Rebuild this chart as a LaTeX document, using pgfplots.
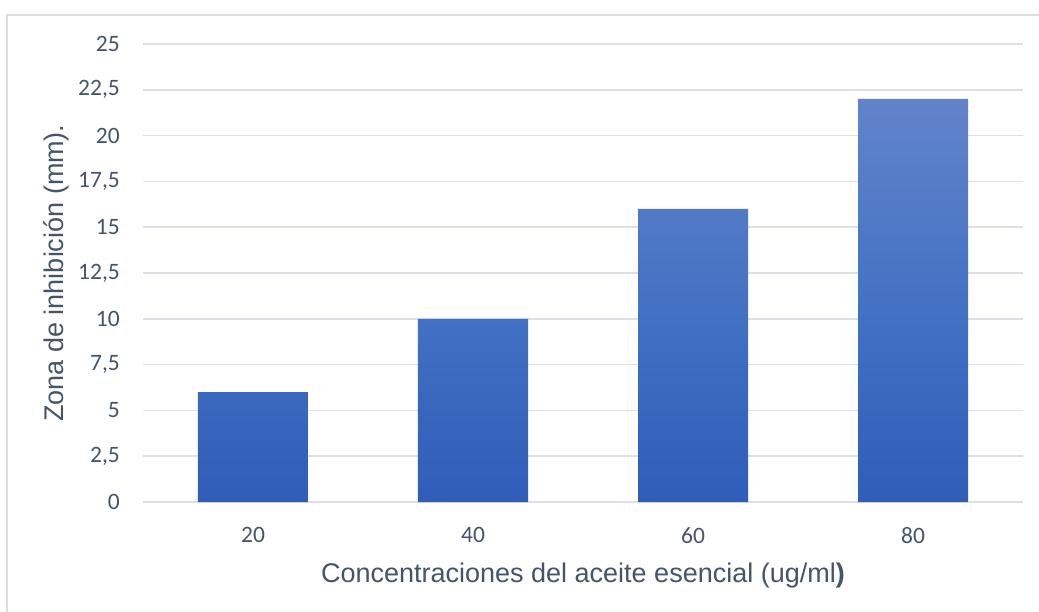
\documentclass[border=0pt]{standalone}
\usepackage{pgfplots}
\pgfplotsset{compat=1.18}
\usepackage{fontspec}
\setmainfont{Liberation Sans}
\newfontfamily\tickfont{Carlito}
\newcommand\tf{\tickfont\fontsize{23.5bp}{28bp}\selectfont}
\definecolor{txt}{HTML}{44546A}
\definecolor{gridc}{HTML}{DDE1E7}
\definecolor{framec}{HTML}{DADDE2}
\definecolor{btop}{HTML}{6283CA}
\definecolor{bmid}{HTML}{4472C4}
\definecolor{bbot}{HTML}{2F5DB8}
\begin{document}
\begin{tikzpicture}
\path[use as bounding box] (-143bp,-110bp) rectangle (896bp,502bp);
\draw[framec, line width=2bp] (-136bp,-115bp) -- (-136bp,487bp) -- (900bp,487bp);
\begin{axis}[
  at={(0,0)}, anchor=south west,
  scale only axis,
  width=880bp, height=458bp,
  xmin=-0.5, xmax=3.5,
  ymin=0, ymax=25,
  ytick={0,2.5,...,25},
  yticklabels={{\tf 0},{\tf 2,5},{\tf 5},{\tf 7,5},{\tf 10},{\tf 12,5},{\tf 15},{\tf 17,5},{\tf 20},{\tf 22,5},{\tf 25}},
  xtick={0,1,2,3},
  xticklabels={{\tf 20},{\tf 40},{\tf 60},{\tf 80}},
  /pgf/number format/assume math mode=true,
  major tick length=0pt,
  axis line style={draw=none},
  ymajorgrids,
  grid style={gridc, line width=1.5bp},
  tick label style={text=txt, inner sep=0pt},
  yticklabel style={anchor=east, xshift=-23bp},
  xticklabel style={anchor=north, yshift=-25bp},
  xlabel={Concentraciones del aceite esencial (ug/ml\textbf{)}},
  ylabel={Zona de inhibición (mm).},
  label style={font=\fontsize{27bp}{31bp}\selectfont, text=txt, inner sep=0pt},
  xlabel style={at={(axis description cs:0.5,0)}, anchor=base, yshift=-80bp},
  ylabel style={at={(axis description cs:0,0.5)}, anchor=center, yshift=87bp},
  clip=false,
]
\addplot[ybar, bar width=0.5, draw=none, top color=btop, bottom color=bbot, middle color=bmid, bar shift=0pt]
  coordinates {(0,6) (1,10) (2,16) (3,22)};
\end{axis}
\end{tikzpicture}
\end{document}
